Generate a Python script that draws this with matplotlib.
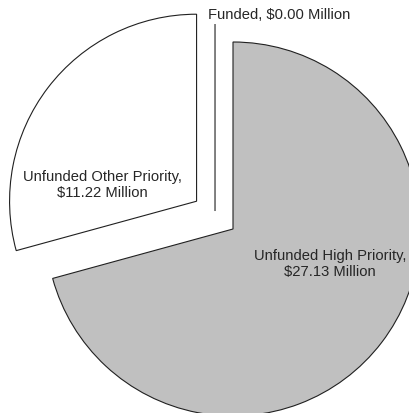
#!/usr/bin/python3
import matplotlib.pyplot as plt
import numpy as np

plt.rcParams['font.family'] = ['Liberation Sans', 'DejaVu Sans']

categories = ['Funded', 'Unfunded High Priority', 'Unfunded Other Priority']
amounts = [0.00, 27.13, 11.22]   # $ Million
colors = ['white', '#c0c0c0', 'white']
explode = [0.0, 0.0, 0.245]


def label(name, value, sep):
    return '%s,%s\\$%.2f Million' % (name, sep, value)


def main():
    fig = plt.figure(figsize=(4.09, 4.14), dpi=100)
    ax = fig.add_axes([0, 0, 1, 1])
    wedges, _ = ax.pie(amounts, colors=colors, explode=explode,
                       startangle=90, counterclock=False, radius=1.0,
                       wedgeprops=dict(edgecolor='#202020', linewidth=0.8))

    # the zero slice is pulled out up and to the left
    ang = np.deg2rad(135)
    wedges[0].set_center((0.136 * np.cos(ang), 0.136 * np.sin(ang)))

    # 187 px per unit, pie centre at (233, 230) px from top-left
    s = 187.0
    ax.set_aspect('auto')
    ax.set_xlim(-233 / s, (409 - 233) / s)
    ax.set_ylim(-(414 - 230) / s, 230 / s)
    ax.axis('off')

    fs = 10.6
    ax.text((208 - 233) / s, (230 - 15) / s, label(categories[0], amounts[0], ' '),
            ha='left', va='center', fontsize=fs, color='#262626')
    ax.text((330 - 233) / s, (230 - 264) / s, label(categories[1], amounts[1], '\n'),
            ha='center', va='center', fontsize=fs, color='#262626',
            linespacing=1.15)
    ax.text((102 - 233) / s, (230 - 185) / s, label(categories[2], amounts[2], '\n'),
            ha='center', va='center', fontsize=fs, color='#262626',
            linespacing=1.15)

    fig.savefig('out.png', dpi=100)


if __name__ == '__main__':
    main()
